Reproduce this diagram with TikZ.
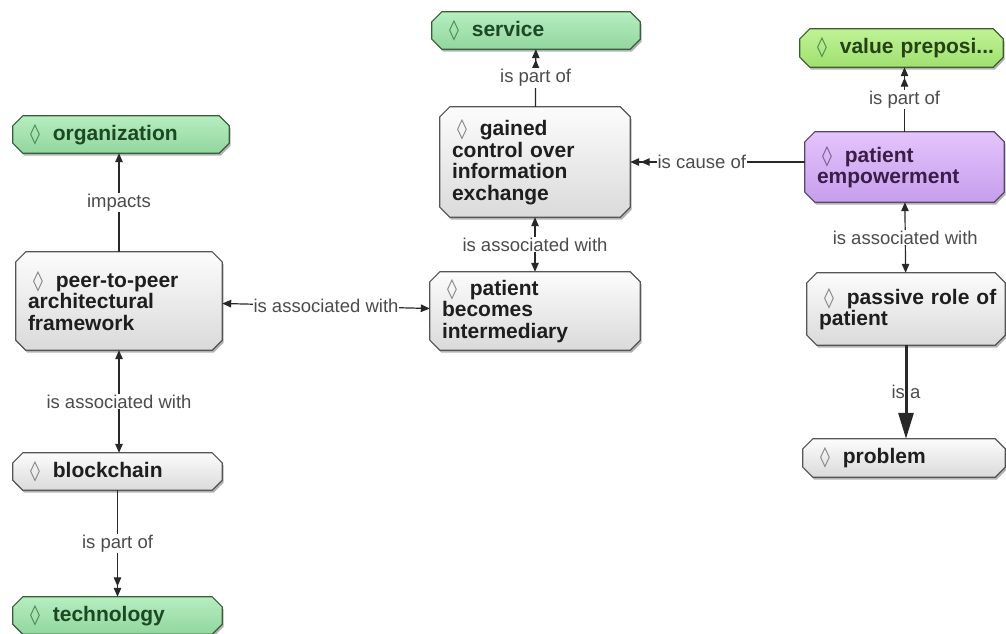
\documentclass[tikz,border=0pt]{standalone}
\usepackage{fontspec}
\setmainfont{Liberation Sans}
\newfontfamily\lzfont{DejaVu Sans}
\usetikzlibrary{arrows.meta,backgrounds,shadows}

% palette
\definecolor{edgecol}{RGB}{40,40,40}
\definecolor{labgray}{RGB}{75,75,75}
\definecolor{ink}{RGB}{30,30,30}
\definecolor{lzgray}{RGB}{130,130,130}
\definecolor{wtop}{RGB}{252,252,252}
\definecolor{wbot}{RGB}{218,218,218}
\definecolor{wline}{RGB}{85,85,85}
\definecolor{gtop}{RGB}{182,238,192}
\definecolor{gbot}{RGB}{146,214,158}
\definecolor{gline}{RGB}{55,95,60}
\definecolor{gink}{RGB}{28,72,36}
\definecolor{lzgreen}{RGB}{70,135,80}
\definecolor{ltop}{RGB}{192,242,150}
\definecolor{lbot}{RGB}{160,224,112}
\definecolor{lline}{RGB}{60,95,45}
\definecolor{link}{RGB}{36,66,20}
\definecolor{ptop}{RGB}{228,196,252}
\definecolor{pbot}{RGB}{198,158,236}
\definecolor{pline}{RGB}{90,72,105}
\definecolor{pink}{RGB}{58,30,72}
\definecolor{lzpurple}{RGB}{120,90,138}

% lozenge marker in front of a concept name
\newcommand\lz[1]{\hspace*{5pt}{\lzfont\fontsize{20}{21.5}\selectfont\color{#1}\char"25CA}\nobreak\hspace{13pt}\nobreak}
% outline of a concept box with cut corners
\newcommand\chamfer[1]{([xshift=10pt]#1.north west) -- ([xshift=-10pt]#1.north east) -- ([yshift=-10pt]#1.north east) -- ([yshift=10pt]#1.south east) -- ([xshift=-10pt]#1.south east) -- ([xshift=10pt]#1.south west) -- ([yshift=10pt]#1.south west) -- ([yshift=-10pt]#1.north west) -- cycle}

\tikzset{
  concept/.style={rectangle, inner xsep=12pt, inner ysep=2pt, align=left,
    font=\fontsize{21}{21.5}\selectfont\bfseries, text=ink},
  gtext/.style={text=gink},
  ltext/.style={text=link},
  ptext/.style={text=pink},
  shadowed/.style={drop shadow={shadow xshift=1.5pt, shadow yshift=-2.5pt, opacity=0.3, fill=black}},
  whitefill/.style={top color=wtop, bottom color=wbot, draw=wline, line width=1.2pt},
  greenfill/.style={top color=gtop, bottom color=gbot, draw=gline, line width=1.2pt},
  limefill/.style={top color=ltop, bottom color=lbot, draw=lline, line width=1.2pt},
  purplefill/.style={top color=ptop, bottom color=pbot, draw=pline, line width=1.2pt},
  lab/.style={font=\fontsize{18.5}{20}\selectfont, text=labgray, fill=white, inner sep=1pt},
  link/.style={draw=edgecol, line width=1.2pt},
  single/.style={link, -{Triangle[length=9pt,width=7.5pt]}},
  assoc/.style={link, {Triangle[length=9pt,width=7.5pt]}-{Triangle[length=9pt,width=7.5pt]}},
  partof/.style={link, -{Triangle[length=9pt,width=7.5pt,sep=1.5pt]Triangle[length=9pt,width=7.5pt]}},
  isa/.style={draw=edgecol, line width=3pt, -{Triangle[length=26pt,width=15pt]}},
}

\begin{document}
\begin{tikzpicture}[x=1pt, y=-1pt]
\useasboundingbox (0,0) rectangle (1006,634);

% concepts
\node[concept, gtext, minimum height=37pt, text width=184pt] (service) at (536,30.5) {\lz{lzgreen}service};
\node[concept, ltext, minimum height=38pt, text width=179pt] (value) at (901.5,48) {\mbox{\lz{lzgreen}value preposi...}};
\node[concept, gtext, minimum height=37pt, text width=192pt] (organization) at (121,134.5) {\lz{lzgreen}organization};
\node[concept, minimum height=98pt, text width=182pt] (peer) at (119,301) {\lz{lzgray}peer-to-peer\\architectural\\framework};
\node[concept, minimum height=110pt, text width=166pt] (gained) at (535,162) {\lz{lzgray}gained\\control over\\information\\exchange};
\node[concept, minimum height=78pt, text width=186pt] (pb) at (535,311) {\lz{lzgray}patient\\becomes\\intermediary};
\node[concept, ptext, minimum height=70pt, text width=175pt] (emp) at (904.5,167) {\lz{lzpurple}patient\\empowerment};
\node[concept, minimum height=72pt, text width=174pt] (passive) at (906,309) {\mbox{\lz{lzgray}passive role of}\\patient};
\node[concept, minimum height=37pt, text width=185pt] (blockchain) at (117.5,471.5) {\lz{lzgray}blockchain};
\node[concept, minimum height=38pt, text width=178pt] (problem) at (904,458) {\lz{lzgray}problem};
\node[concept, gtext, minimum height=37pt, text width=185pt] (technology) at (117.5,615.5) {\lz{lzgreen}technology};

% boxes behind the concept texts
\begin{scope}[on background layer]
\foreach \n/\st in {service/greenfill, value/limefill, organization/greenfill,
    technology/greenfill, peer/whitefill, gained/whitefill, pb/whitefill,
    blockchain/whitefill, passive/whitefill, problem/whitefill, emp/purplefill}
  \path[\st, shadowed] \chamfer{\n};
\end{scope}

% links
\draw[partof] (gained) -- node[lab]{is part of} (service);
\draw[assoc] (gained) -- node[lab]{is associated with} (pb);
\draw[partof] (emp.west |- gained.east) -- node[lab, pos=0.59]{is cause of} (gained.east);
\draw[partof] (emp.north) -- node[lab]{is part of} (emp.north |- value.south);
\draw[assoc] (emp) -- node[lab]{is associated with} (passive);
\draw[isa] (passive.south) -- node[lab, fill=none]{is a} (passive.south |- problem.north);
\draw[single] (peer.north) -- node[lab]{impacts} (peer.north |- organization.south);
\draw[assoc] (peer) -- node[lab]{is associated with} (pb);
\draw[assoc] (peer.south) -- node[lab]{is associated with} (peer.south |- blockchain.north);
\draw[partof] (blockchain) -- node[lab]{is part of} (technology);
\end{tikzpicture}
\end{document}
